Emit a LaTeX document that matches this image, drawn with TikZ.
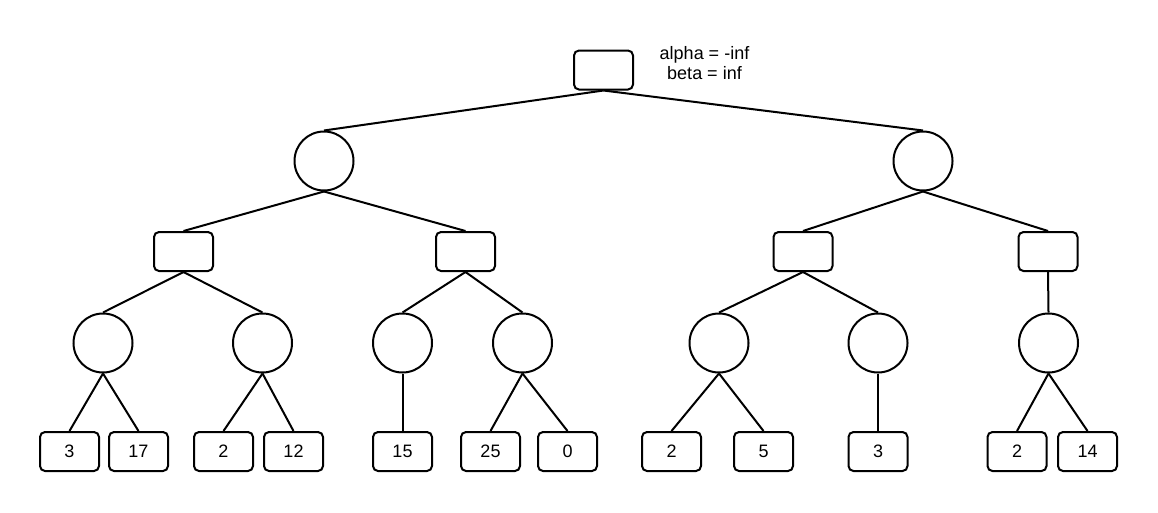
\documentclass[tikz,border=0pt]{standalone}
\usepackage{fontspec}
\setmainfont{Liberation Sans}
\begin{document}
\begin{tikzpicture}[x=1pt,y=-1pt,
  every node/.style={font=\fontsize{18}{20}\selectfont},
  box/.style={draw, line width=2pt, rounded corners=5pt, minimum width=59pt, minimum height=39pt, inner sep=0pt},
  ball/.style={draw, circle, line width=2pt, minimum size=59pt, inner sep=0pt},
  edge/.style={line width=2pt}]
\useasboundingbox (0,0) rectangle (1158,512);
% root
\node[box] (root) at (603.5,70) {};
\node[align=center, inner sep=0pt] (ab) at (704.5,63) {alpha = -inf\\beta = inf};
% level 1
\node[ball] (c1) at (324,161) {};
\node[ball] (c2) at (923,161) {};
% level 2
\node[box] (r1) at (183.5,251.5) {};
\node[box] (r2) at (465.5,251.5) {};
\node[box] (r3) at (803,251.5) {};
\node[box] (r4) at (1048,251.5) {};
% level 3
\node[ball] (d1) at (103,343) {};
\node[ball] (d2) at (262.5,343) {};
\node[ball] (d3) at (402.5,343) {};
\node[ball] (d4) at (522.5,343) {};
\node[ball] (d5) at (719,343) {};
\node[ball] (d6) at (878,343) {};
\node[ball] (d7) at (1048.5,343) {};
% leaves
\node[box] (l1) at (69.5,451.5) {3};
\node[box] (l2) at (138.5,451.5) {17};
\node[box] (l3) at (223.5,451.5) {2};
\node[box] (l4) at (293.5,451.5) {12};
\node[box] (l5) at (402.5,451.5) {15};
\node[box] (l6) at (490.5,451.5) {25};
\node[box] (l7) at (567.5,451.5) {0};
\node[box] (l8) at (671.5,451.5) {2};
\node[box] (l9) at (763.5,451.5) {5};
\node[box] (l10) at (878,451.5) {3};
\node[box] (l11) at (1017,451.5) {2};
\node[box] (l12) at (1087.5,451.5) {14};
% edges
\draw[edge] (root.south) -- (c1.north);
\draw[edge] (root.south) -- (c2.north);
\draw[edge] (c1.south) -- (r1.north);
\draw[edge] (c1.south) -- (r2.north);
\draw[edge] (c2.south) -- (r3.north);
\draw[edge] (c2.south) -- (r4.north);
\draw[edge] (r1.south) -- (d1.north);
\draw[edge] (r1.south) -- (d2.north);
\draw[edge] (r2.south) -- (d3.north);
\draw[edge] (r2.south) -- (d4.north);
\draw[edge] (r3.south) -- (d5.north);
\draw[edge] (r3.south) -- (d6.north);
\draw[edge] (r4.south) -- (d7.north);
\draw[edge] (d1.south) -- (l1.north);
\draw[edge] (d1.south) -- (l2.north);
\draw[edge] (d2.south) -- (l3.north);
\draw[edge] (d2.south) -- (l4.north);
\draw[edge] (d3.south) -- (l5.north);
\draw[edge] (d4.south) -- (l6.north);
\draw[edge] (d4.south) -- (l7.north);
\draw[edge] (d5.south) -- (l8.north);
\draw[edge] (d5.south) -- (l9.north);
\draw[edge] (d6.south) -- (l10.north);
\draw[edge] (d7.south) -- (l11.north);
\draw[edge] (d7.south) -- (l12.north);
\end{tikzpicture}
\end{document}
